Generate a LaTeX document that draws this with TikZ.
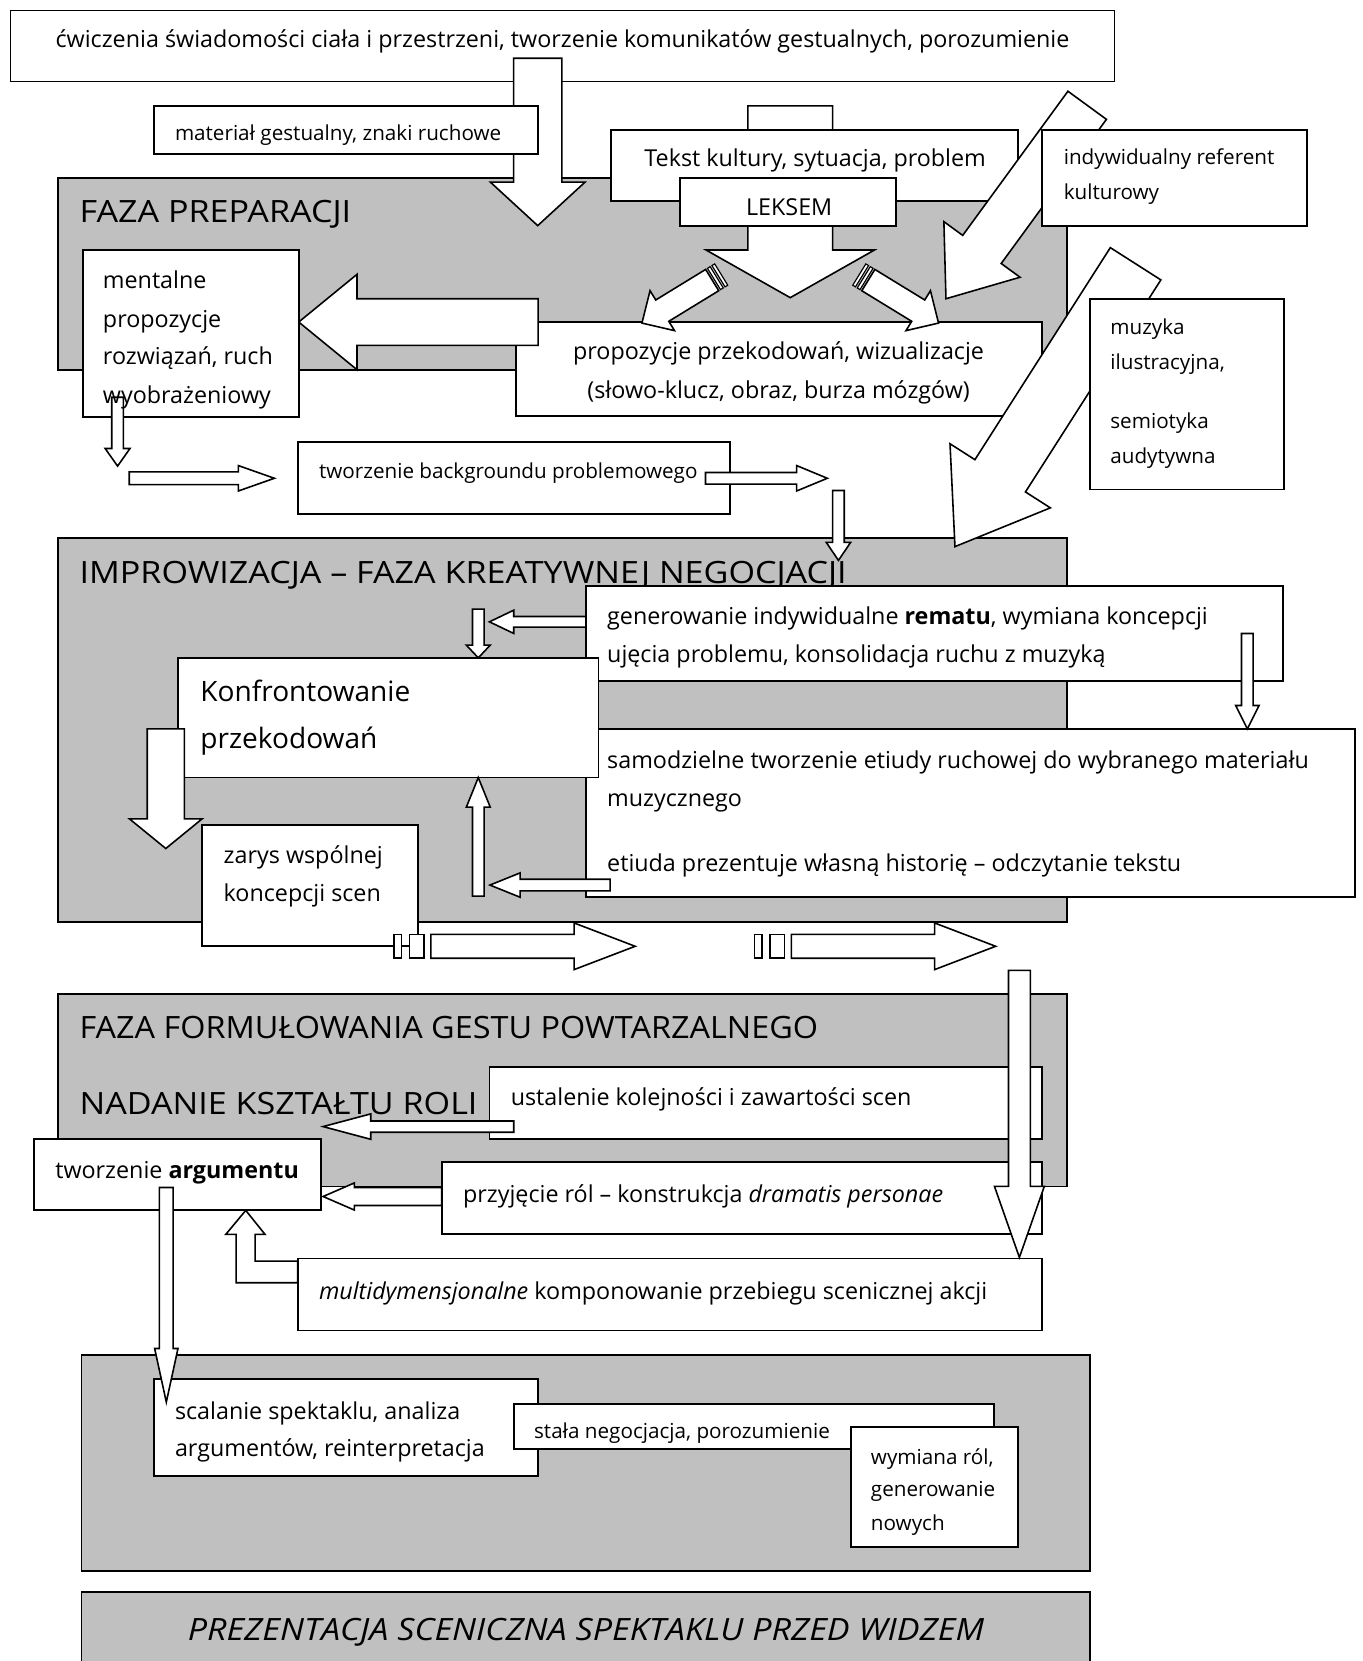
\documentclass[tikz,border=0pt]{standalone}
\usepackage{fontspec}
\setmainfont{Open Sans}
\newfontfamily\titlefont[FakeStretch=1.11]{Open Sans}
\usetikzlibrary{calc,fit}
\definecolor{phasegray}{HTML}{C0C0C0}
\newcommand\fsS{\fontsize{19.5}{23}\selectfont}
\newcommand\fsM{\fontsize{22}{26}\selectfont}
\newcommand\fsK{\fontsize{26.5}{31}\selectfont}
\newcommand\fsB{\titlefont\fontsize{29}{34}\selectfont}
% block arrow: [opts]{tail}{tip}{body half width}{head half width}{head length}
\newcommand\blockarrow[6][]{%
  \coordinate (ba-h) at ($(#3)!#6!(#2)$);
  \draw[arr,#1] ($(#2)!#4!90:(#3)$) -- ($(ba-h)!#4!90:(#3)$) -- ($(ba-h)!#5!90:(#3)$) -- (#3)
     -- ($(ba-h)!#5!-90:(#3)$) -- ($(ba-h)!#4!-90:(#3)$) -- ($(#2)!#4!-90:(#3)$) -- cycle;}
% stripe behind a tail: {tail}{tip}{from}{to}{half width}
\newcommand\diagstripe[5]{%
  \coordinate (ds-a) at ($(#1)!-#3!(#2)$);
  \coordinate (ds-b) at ($(#1)!-#4!(#2)$);
  \draw[arr,line width=1.1pt] ($(ds-a)!#5!90:(#2)$) -- ($(ds-b)!#5!90:(#2)$) -- ($(ds-b)!#5!-90:(#2)$) -- ($(ds-a)!#5!-90:(#2)$) -- cycle;}
\begin{document}
\begin{tikzpicture}[x=1pt,y=-1pt,
  box/.style={draw, fill=white, line width=1.7pt, inner sep=0pt, outer sep=0pt},
  phase/.style={draw, fill=phasegray, line width=1.7pt, inner sep=0pt, outer sep=0pt},
  arr/.style={draw, fill=white, line width=1.5pt, line join=miter},
  txt/.style={inner sep=0pt, anchor=base west},
  ts/.style={txt, font=\fsS, yshift=-7.6pt},
  tm/.style={txt, font=\fsM, yshift=-8.3pt},
  tk/.style={txt, font=\fsK, yshift=-9.3pt},
  tb/.style={txt, font=\fsB, yshift=-11pt},
]
\useasboundingbox (0,0) rectangle (1286,1568);
\clip (0,0) rectangle (1286,1568);
\fill[white] (0,0) rectangle (1286,1568);

% phases
\node[phase, fit={(55,168) (1007,349)}] (ph1) {};
\node[phase, fit={(55,508) (1007,870)}] (ph2) {};
\node[phase, fit={(55,938) (1007,1120)}] (ph3) {};
\node[phase, fit={(77,1279) (1029,1483)}] (ph4) {};
\node[phase, fit={(77,1503) (1029,1600)}] (ph5) {};
\node[tb] (ph1t) at (75,199) {FAZA PREPARACJI};

% top
\node[box, fit={(10,10) (1052,77)}] (top) {};
\node[tm, anchor=base] (topt) at (531,37) {ćwiczenia świadomości ciała i przestrzeni, tworzenie komunikatów gestualnych, porozumienie};
\coordinate (a1t) at (507.6,55); \coordinate (a1h) at (507.6,213);
\blockarrow{a1t}{a1h}{22.75pt}{44.6pt}{41pt}
\node[box, fit={(145,100) (508,145)}] (mat) {};
\node[ts] (matt) at (165,125) {materiał gestualny, znaki ruchowe};

% leksem
\coordinate (a2t) at (746,100); \coordinate (a2h) at (746,281);
\blockarrow{a2t}{a2h}{40pt}{79.5pt}{45pt}
\node[box, fit={(577,123) (961,190)}] (tek) {};
\node[tm, anchor=base] (tekt) at (769.5,149) {Tekst kultury, sytuacja, problem};
\node[box, fit={(642,168) (846,213)}] (lek) {};
\node[tm, anchor=base] (lekt) at (745,195) {LEKSEM};

% propozycje
\node[box, fit={(487,304) (984,393)}] (prop) {};
\node[tm, anchor=base] (prop1) at (735,331) {propozycje przekodowań, wizualizacje};
\node[tm, anchor=base] (prop2) at (735,368) {(słowo-klucz, obraz, burza mózgów)};

% striped diagonal arrows
\coordinate (sl-t) at (672.3,264.4); \coordinate (sl-h) at (606,305);
\blockarrow{sl-t}{sl-h}{11.8pt}{22.1pt}{22.5pt}
\diagstripe{sl-t}{sl-h}{2pt}{5pt}{11.8pt}
\diagstripe{sl-t}{sl-h}{7pt}{10pt}{11.8pt}
\coordinate (sr-t) at (819.7,264.4); \coordinate (sr-h) at (886,305);
\blockarrow{sr-t}{sr-h}{11.8pt}{22.1pt}{22.5pt}
\diagstripe{sr-t}{sr-h}{2pt}{5pt}{11.8pt}
\diagstripe{sr-t}{sr-h}{7pt}{10pt}{11.8pt}

% big left arrow
\coordinate (a3t) at (508,304); \coordinate (a3h) at (282,304);
\blockarrow{a3t}{a3h}{22pt}{45pt}{55pt}
\node[box, fit={(78,236) (282,394)}] (ment) {};

% diagonal big arrows
\coordinate (d1t) at (1026.3,99.4); \coordinate (d1h) at (893,282);
\blockarrow{d1t}{d1h}{22.5pt}{44.5pt}{57.6pt}
\node[box, fit={(984,123) (1234,213)}] (ind) {};
\node[ts] (ind1) at (1004,148) {indywidualny referent};
\node[ts] (ind2) at (1004,181) {kulturowy};
\coordinate (d2t) at (1072,249); \coordinate (d2h) at (901.5,516);
\blockarrow{d2t}{d2h}{28.3pt}{56.2pt}{79.3pt}
\node[box, fit={(1029,282) (1212,462)}] (muz) {};
\node[ts] (muz1) at (1048,308.5) {muzyka};
\node[ts] (muz2) at (1048,341) {ilustracyjna,};
\node[ts] (muz3) at (1048,397) {semiotyka};
\node[ts] (muz4) at (1048,430) {audytywna};

% small arrows below mentalne
\coordinate (s1t) at (111,375); \coordinate (s1h) at (111,440);
\blockarrow{s1t}{s1h}{5.5pt}{11.7pt}{16.6pt}
\node[tm] (ment1) at (97,264) {mentalne};
\node[tm] (ment2) at (97,300.5) {propozycje};
\node[tm] (ment3) at (97,336) {rozwiązań, ruch};
\node[tm] (ment4) at (97,373) {wyobrażeniowy};
\coordinate (s2t) at (122,451.5); \coordinate (s2h) at (259,451.5);
\blockarrow{s2t}{s2h}{6pt}{12pt}{34pt}

% background
\node[box, fit={(281,417) (689,485)}] (bg) {};
\node[ts] (bgt) at (301,444) {tworzenie backgroundu problemowego};
\coordinate (s3t) at (666,451.5); \coordinate (s3h) at (781,451.5);
\blockarrow{s3t}{s3h}{5.5pt}{12pt}{29pt}
\coordinate (s4t) at (791.5,463); \coordinate (s4h) at (791.5,529);
\blockarrow{s4t}{s4h}{5.5pt}{11.5pt}{17pt}
\node[tb] (ph2t) at (75,539.5) {IMPROWIZACJA – FAZA KREATYWNEJ NEGOCJACJI};

% improwizacja boxes
\node[box, fit={(553,553) (1211,643)}] (gen) {};
\node[tm] (gen1) at (573,581.5) {generowanie indywidualne \textbf{rematu}, wymiana koncepcji};
\node[tm] (gen2) at (573,617.5) {ujęcia problemu, konsolidacja ruchu z muzyką};
\node[box, fit={(553,688) (1279,847)}] (sam) {};
\node[tm] (sam1) at (573,717) {samodzielne tworzenie etiudy ruchowej do wybranego materiału};
\node[tm] (sam2) at (573,753) {muzycznego};
\node[tm] (sam3) at (573,814) {etiuda prezentuje własną historię – odczytanie tekstu};
\node[box, fit={(168,621) (565,734)}] (konf) {};
\node[tk] (konf1) at (189,652.6) {Konfrontowanie};
\node[tk] (konf2) at (189,697) {przekodowań};
\node[box, fit={(191,779) (394.5,893)}] (zar) {};
\node[tm] (zar1) at (211,807) {zarys wspólnej};
\node[tm] (zar2) at (211,843) {koncepcji scen};

\coordinate (s5t) at (553,587); \coordinate (s5h) at (462,587);
\blockarrow{s5t}{s5h}{5pt}{11pt}{23pt}
\coordinate (s6t) at (451.5,575); \coordinate (s6h) at (451.5,621);
\blockarrow{s6t}{s6h}{5.5pt}{11.3pt}{12pt}
\coordinate (s7t) at (1177.5,598); \coordinate (s7h) at (1177.5,688);
\blockarrow{s7t}{s7h}{5.5pt}{11pt}{22pt}
\coordinate (s8t) at (451.5,846); \coordinate (s8h) at (451.5,734);
\blockarrow{s8t}{s8h}{5.5pt}{11.3pt}{28pt}
\coordinate (s9t) at (576,835.5); \coordinate (s9h) at (462.5,835.5);
\blockarrow{s9t}{s9h}{5.5pt}{11.5pt}{28.5pt}
\coordinate (s10t) at (156.5,688); \coordinate (s10h) at (156.5,801);
\blockarrow{s10t}{s10h}{17.5pt}{34.3pt}{28pt}

% horizontal striped arrows
\draw[arr] (372,882) rectangle (379,904.6);
\draw[arr] (386.5,882) rectangle (400.4,904.6);
\coordinate (h1t) at (406.7,893.3); \coordinate (h1h) at (599.6,893.3);
\blockarrow{h1t}{h1h}{11.3pt}{22pt}{57.6pt}
\draw[arr] (712.3,882) rectangle (719.3,904.6);
\draw[arr] (726.8,882) rectangle (740.7,904.6);
\coordinate (h2t) at (747,893.3); \coordinate (h2h) at (939.9,893.3);
\blockarrow{h2t}{h2h}{11.3pt}{22pt}{57.6pt}

% phase 3
\node[tb] (ph3t1) at (75,969.5) {\scalebox{0.95}[1]{FAZA FORMUŁOWANIA GESTU POWTARZALNEGO}};
\node[tb] (ph3t2) at (75,1041) {NADANIE KSZTAŁTU ROLI};
\node[box, fit={(462,1007) (984,1075)}] (ust) {};
\node[tm] (ustt) at (482,1035) {ustalenie kolejności i zawartości scen};
\coordinate (s11t) at (485,1063.5); \coordinate (s11h) at (305,1063.5);
\blockarrow{s11t}{s11h}{5.3pt}{12pt}{45pt}
\node[box, fit={(32,1075) (303,1142.6)}] (arg) {};
\node[tm] (argt) at (52,1104) {tworzenie \textbf{argumentu}};
\node[box, fit={(417,1097) (984,1165)}] (przy) {};
\node[tm] (przyt) at (437,1126.6) {przyjęcie ról – konstrukcja \textit{dramatis personae}};
\coordinate (s12t) at (417,1129.5); \coordinate (s12h) at (305,1129.5);
\blockarrow{s12t}{s12h}{8.5pt}{12.8pt}{29.5pt}
\draw[arr] (281,1190.5) -- (240.8,1190.5) -- (240.8,1165.3) -- (250.2,1165.3) -- (232,1142.6)
  -- (213.1,1165.3) -- (222.9,1165.3) -- (222.9,1210.9) -- (281,1210.9) -- cycle;
\node[box, fit={(281,1188) (984,1256)}] (multi) {};
\node[tm] (multit) at (301,1218) {\textit{multidymensjonalne} komponowanie przebiegu scenicznej akcji};
\coordinate (s13t) at (962.3,916); \coordinate (s13h) at (962.3,1187);
\blockarrow{s13t}{s13h}{10.3pt}{23.5pt}{67pt}

% phase 4
\node[box, fit={(145,1302) (508,1393)}] (scal) {};
\node[tm] (scal1) at (165,1331.5) {scalanie spektaklu, analiza};
\node[tm] (scal2) at (165,1366.6) {argumentów, reinterpretacja};
\node[box, fit={(485,1325) (938,1368)}] (stala) {};
\node[ts] (stalat) at (504,1350) {stała negocjacja, porozumienie};
\node[box, fit={(803,1347) (961,1460)}] (wym) {};
\node[ts] (wym1) at (822,1375) {wymiana ról,};
\node[ts] (wym2) at (822,1405) {generowanie};
\node[ts] (wym3) at (822,1437) {nowych};
\coordinate (s14t) at (157,1121); \coordinate (s14h) at (157,1323.6);
\blockarrow{s14t}{s14h}{6.5pt}{11pt}{50.6pt}

% phase 5
\node[tb, anchor=base, font=\fsB\itshape] (ph5t) at (553,1537.6) {PREZENTACJA SCENICZNA SPEKTAKLU PRZED WIDZEM};
\end{tikzpicture}
\end{document}
